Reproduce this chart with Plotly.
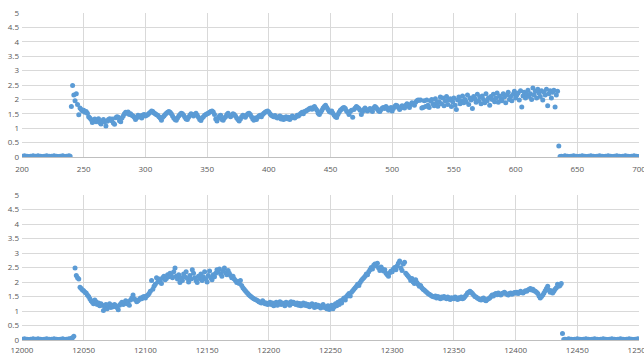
import plotly.graph_objects as go
from plotly.subplots import make_subplots

# ---------------- Top series (x = 200 .. 700, step 1) ----------------
top_start = 200
top_values = [
    # 200-239
    0.03,0.02,0.04,0.01,0.03,0.02,0.00,0.03,0.02,0.04,
    0.02,0.03,0.01,0.04,0.02,0.03,0.02,0.00,0.03,0.02,
    0.04,0.01,0.03,0.02,0.03,0.01,0.04,0.02,0.03,0.02,
    0.01,0.03,0.02,0.04,0.02,0.00,0.03,0.02,0.04,0.03,
    # 240-634
    1.75,2.48,2.15,1.95,2.20,1.82,1.47,1.70,1.65,1.60,
    1.62,1.55,1.58,1.52,1.40,1.35,1.30,1.20,1.25,1.32,
    1.22,1.28,1.33,1.20,1.15,1.25,1.30,1.22,1.08,1.24,
    1.30,1.33,1.27,1.32,1.18,1.14,1.36,1.40,1.38,1.26,
    1.22,1.35,1.42,1.50,1.55,1.52,1.56,1.48,1.50,1.45,
    1.42,1.38,1.30,1.36,1.45,1.40,1.43,1.35,1.46,1.48,
    1.42,1.45,1.48,1.52,1.55,1.60,1.58,1.53,1.50,1.47,
    1.45,1.40,1.35,1.28,1.38,1.42,1.48,1.52,1.55,1.58,
    1.55,1.50,1.42,1.35,1.30,1.28,1.35,1.42,1.48,1.52,
    1.50,1.45,1.38,1.32,1.30,1.38,1.45,1.50,1.48,1.42,
    1.48,1.52,1.45,1.38,1.30,1.27,1.35,1.40,1.45,1.48,
    1.50,1.52,1.55,1.58,1.60,1.56,1.48,1.32,1.25,1.35,
    1.42,1.45,1.30,1.28,1.35,1.40,1.48,1.52,1.45,1.40,
    1.45,1.50,1.48,1.42,1.35,1.30,1.25,1.32,1.40,1.45,
    1.42,1.38,1.45,1.50,1.52,1.48,1.40,1.32,1.28,1.35,
    1.30,1.38,1.42,1.45,1.40,1.48,1.52,1.55,1.58,1.60,
    1.56,1.50,1.45,1.42,1.40,1.44,1.38,1.35,1.40,1.42,
    1.32,1.38,1.30,1.35,1.40,1.33,1.38,1.30,1.35,1.42,
    1.38,1.35,1.40,1.45,1.42,1.48,1.52,1.55,1.50,1.58,
    1.60,1.62,1.65,1.68,1.70,1.66,1.72,1.75,1.68,1.62,
    1.52,1.48,1.55,1.62,1.70,1.75,1.80,1.72,1.65,1.58,
    1.55,1.60,1.52,1.45,1.40,1.37,1.48,1.55,1.62,1.66,
    1.70,1.72,1.68,1.60,1.55,1.48,1.58,1.62,1.38,1.65,
    1.70,1.75,1.72,1.68,1.62,1.48,1.58,1.65,1.70,1.62,
    1.60,1.65,1.68,1.62,1.58,1.70,1.75,1.72,1.66,1.60,
    1.58,1.65,1.70,1.72,1.68,1.75,1.70,1.62,1.65,1.72,
    1.60,1.68,1.75,1.80,1.78,1.72,1.65,1.70,1.78,1.75,
    1.70,1.80,1.85,1.78,1.72,1.82,1.88,1.85,1.80,1.90,
    1.95,1.98,1.97,1.98,1.70,1.72,1.95,1.75,1.98,1.80,
    1.72,1.95,2.00,1.85,1.78,2.02,1.88,1.76,1.92,2.08,
    1.85,2.05,1.78,1.95,2.10,1.82,1.98,2.02,1.75,1.92,
    2.05,1.80,1.65,1.98,2.08,1.85,1.95,2.12,1.88,2.00,
    1.92,2.15,1.82,2.05,1.98,1.68,2.10,2.02,1.90,2.18,
    1.95,2.08,1.85,2.12,2.00,1.88,2.20,1.95,2.05,1.80,
    2.10,2.00,2.18,1.92,2.05,2.22,1.90,2.12,2.02,1.95,
    2.20,2.08,1.88,2.15,2.25,2.00,2.10,1.95,2.18,2.28,
    2.05,2.15,2.22,1.98,2.30,1.74,2.12,2.25,2.05,2.18,
    2.32,2.10,2.20,2.00,2.40,2.15,2.28,2.05,2.35,2.22,
    2.10,2.30,1.98,2.25,2.15,2.35,1.78,2.20,2.30,2.05,
    2.25,2.32,1.74,2.15,2.28,
    # 635
    0.38,
    # 636-700
    0.02,0.03,0.01,0.02,0.04,0.02,0.03,0.01,0.02,0.03,
    0.02,0.04,0.01,0.03,0.02,0.02,0.03,0.01,0.04,0.02,
    0.03,0.02,0.01,0.03,0.02,0.04,0.02,0.03,0.01,0.02,
    0.03,0.02,0.04,0.01,0.03,0.02,0.02,0.03,0.01,0.04,
    0.02,0.03,0.02,0.01,0.03,0.02,0.04,0.02,0.03,0.01,
    0.02,0.03,0.02,0.04,0.01,0.03,0.02,0.02,0.03,0.01,
    0.04,0.02,0.03,0.02,0.01,
]

# ---------------- Bottom series (x = 12000 .. 12500, step 1) ----------------
bottom_start = 12000
bottom_values = [
    # 12000-12039
    0.03,0.02,0.04,0.01,0.03,0.02,0.00,0.03,0.02,0.04,
    0.02,0.03,0.01,0.04,0.02,0.03,0.02,0.00,0.03,0.02,
    0.04,0.01,0.03,0.02,0.03,0.01,0.04,0.02,0.03,0.02,
    0.01,0.03,0.02,0.04,0.02,0.00,0.03,0.02,0.04,0.03,
    # 12040-12042
    0.06,0.08,0.13,
    # 12043-12049
    2.48,2.22,2.15,2.10,1.82,1.78,1.72,
    # 12050-12429
    1.70,1.65,1.62,1.55,1.50,1.42,1.35,1.30,1.25,1.38,
    1.32,1.22,1.28,1.18,1.25,1.20,1.02,1.15,1.22,1.08,
    1.18,1.25,1.12,1.20,1.15,1.22,1.18,1.12,1.04,1.20,
    1.25,1.30,1.22,1.28,1.35,1.25,1.32,1.20,1.38,1.45,
    1.55,1.42,1.38,1.32,1.35,1.40,1.45,1.42,1.48,1.50,
    1.45,1.52,1.55,1.60,1.68,2.05,1.75,1.85,1.92,2.15,
    2.00,2.10,2.05,1.95,2.15,2.20,2.08,2.12,2.25,2.18,
    2.30,2.22,2.15,2.35,2.48,2.20,2.10,2.25,1.98,2.15,
    2.05,2.28,2.18,2.35,2.12,2.00,2.22,2.10,2.42,2.30,
    2.15,2.05,1.98,2.20,2.12,2.28,2.05,2.18,2.35,2.10,
    2.00,2.22,2.38,2.15,2.08,2.25,2.18,2.30,2.42,2.35,
    2.45,2.28,2.20,2.38,2.48,2.32,2.25,2.40,2.30,2.22,
    2.15,2.20,2.10,2.05,1.98,2.02,1.95,2.05,1.88,1.80,
    1.75,1.70,1.65,1.60,1.55,1.52,1.48,1.45,1.42,1.40,
    1.38,1.35,1.32,1.30,1.28,1.35,1.30,1.25,1.28,1.22,
    1.25,1.30,1.22,1.28,1.18,1.25,1.30,1.20,1.26,1.32,
    1.22,1.28,1.25,1.18,1.30,1.24,1.28,1.20,1.32,1.26,
    1.30,1.25,1.22,1.28,1.20,1.26,1.18,1.24,1.28,1.20,
    1.25,1.18,1.22,1.15,1.20,1.25,1.18,1.12,1.22,1.15,
    1.20,1.16,1.10,1.18,1.22,1.12,1.15,1.08,1.18,1.05,
    1.12,1.20,1.08,1.15,1.25,1.18,1.30,1.22,1.35,1.28,
    1.40,1.45,1.38,1.50,1.55,1.60,1.52,1.65,1.70,1.75,
    1.80,1.85,1.92,1.88,1.98,2.05,2.10,2.15,2.20,2.28,
    2.25,2.35,2.42,2.50,2.45,2.58,2.62,2.55,2.65,2.48,
    2.40,2.52,2.45,2.38,2.42,2.30,2.25,2.20,2.32,2.38,
    2.35,2.45,2.50,2.42,2.55,2.65,2.72,2.48,2.40,2.62,
    2.68,2.30,2.25,2.20,2.15,2.05,2.12,2.00,1.95,2.08,
    1.98,1.92,1.85,1.88,1.80,1.75,1.72,1.68,1.65,1.60,
    1.58,1.55,1.52,1.50,1.48,1.52,1.45,1.50,1.47,1.42,
    1.48,1.45,1.50,1.46,1.42,1.48,1.45,1.40,1.46,1.44,
    1.42,1.48,1.45,1.40,1.46,1.43,1.48,1.42,1.45,1.50,
    1.55,1.62,1.65,1.68,1.65,1.60,1.55,1.50,1.48,1.45,
    1.42,1.40,1.38,1.42,1.45,1.38,1.35,1.40,1.42,1.45,
    1.50,1.55,1.52,1.58,1.60,1.56,1.62,1.58,1.55,1.60,
    1.62,1.65,1.60,1.58,1.55,1.60,1.62,1.58,1.60,1.64,
    1.62,1.65,1.60,1.63,1.68,1.65,1.62,1.66,1.70,1.68,
    1.72,1.75,1.78,1.72,1.75,1.70,1.68,1.65,1.60,1.52,
    1.45,1.50,1.55,1.62,1.70,1.78,1.85,1.72,1.65,1.70,
    # 12430-12437
    1.62,1.68,1.75,1.80,1.92,1.85,1.88,1.95,
    # 12438
    0.22,
    # 12439-12500
    0.02,0.03,0.01,0.02,0.04,0.02,0.03,0.01,0.02,0.03,
    0.02,0.04,0.01,0.03,0.02,0.02,0.03,0.01,0.04,0.02,
    0.03,0.02,0.01,0.03,0.02,0.04,0.02,0.03,0.01,0.02,
    0.03,0.02,0.04,0.01,0.03,0.02,0.02,0.03,0.01,0.04,
    0.02,0.03,0.02,0.01,0.03,0.02,0.04,0.02,0.03,0.01,
    0.02,0.03,0.02,0.04,0.01,0.03,0.02,0.02,0.03,0.01,
    0.04,0.02,
]

top_x = [top_start + i for i in range(len(top_values))]
bottom_x = [bottom_start + i for i in range(len(bottom_values))]

y_ticks = [0, 0.5, 1, 1.5, 2, 2.5, 3, 3.5, 4, 4.5, 5]
y_tick_text = ["0", "0.5", "1", "1.5", "2", "2.5", "3", "3.5", "4", "4.5", "5"]

MARKER_COLOR = "#5b9bd5"
GRID = "#d9d9d9"
TICK_FONT = dict(family="Open Sans", size=8, color="#595959")

fig = make_subplots(rows=2, cols=1, vertical_spacing=0.0)

fig.add_trace(go.Scatter(x=top_x, y=top_values, mode="markers",
                         marker=dict(color=MARKER_COLOR, size=5),
                         showlegend=False), row=1, col=1)
fig.add_trace(go.Scatter(x=bottom_x, y=bottom_values, mode="markers",
                         marker=dict(color=MARKER_COLOR, size=5),
                         showlegend=False), row=2, col=1)

W, H = 644, 355
ml, mr, mt, mb = 22, 5, 13, 15
ph = H - mt - mb
top_dom = [(H - mb - 157) / ph, 1.0]
bot_dom = [0.0, (H - mb - 195) / ph]

common_x = dict(showgrid=True, gridcolor=GRID, gridwidth=1, zeroline=False,
                showline=True, linecolor="#bfbfbf", linewidth=1,
                ticks="", tickfont=TICK_FONT, dtick=50, tickformat="d",
                ticklabeloverflow="allow", automargin=False)
common_y = dict(showgrid=True, gridcolor=GRID, gridwidth=1, zeroline=False,
                showline=False, ticks="", tickfont=TICK_FONT,
                tickvals=y_ticks, ticktext=y_tick_text, range=[0, 5],
                ticklabelstandoff=2, automargin=False)

fig.update_layout(
    width=W, height=H,
    margin=dict(l=ml, r=mr, t=mt, b=mb, autoexpand=False),
    plot_bgcolor="white", paper_bgcolor="white",
    xaxis=dict(common_x, range=[200, 700], tick0=200, domain=[0, 1],
               ticklabelstandoff=4),
    yaxis=dict(common_y, domain=top_dom),
    xaxis2=dict(common_x, range=[12000, 12500], tick0=12000, domain=[0, 1],
                ticklabelstandoff=2),
    yaxis2=dict(common_y, domain=bot_dom),
)

fig.write_html("out.html")
